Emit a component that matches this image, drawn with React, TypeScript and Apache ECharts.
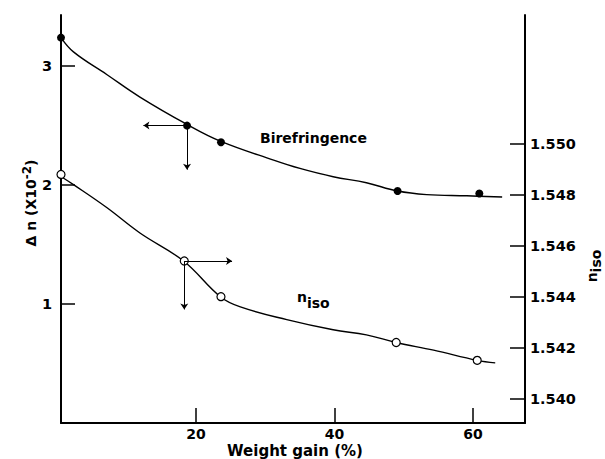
import React, { useEffect, useRef } from "react";
import * as echarts from "echarts";

// Measured points (weight gain %, value)
const weightGainBiref = [0.5, 18.7, 23.6, 49.1, 60.9];
const birefringence = [3.24, 2.5, 2.36, 1.95, 1.93];
const weightGainIso = [0.5, 18.3, 23.6, 48.9, 60.6];
const nIso = [1.5488, 1.5454, 1.544, 1.5422, 1.5415];

// Hand-drawn fitted curves
const birefCurveX = [0.5, 2.3, 7.1, 11.9, 18.7, 23.5, 31.2, 35.0, 39.8, 44.6, 49.1, 53.3, 59.1, 64.2];
const birefCurveY = [3.24, 3.12, 2.93, 2.74, 2.51, 2.37, 2.21, 2.14, 2.07, 2.02, 1.95, 1.92, 1.91, 1.9];
const isoCurveX = [0.6, 2.3, 7.1, 11.9, 18.2, 23.5, 26.4, 33.1, 39.8, 44.6, 48.9, 54.3, 60.6, 63.2];
const isoCurveY = [1.5487, 1.5484, 1.5475, 1.5465, 1.5454, 1.5440, 1.5436, 1.5431, 1.5427, 1.5425, 1.5422, 1.5419, 1.5415, 1.5414];

// Arrow end points (pointing to the relevant axis)
const birefArrowLeftX = 12.4;
const birefArrowDownY = 2.13;
const isoArrowRightX = 25.2;
const isoArrowDownY = 1.5435;

// Tick values
const xTicks = [20, 40, 60];
const leftTicks = [1, 2, 3];
const rightTicks = [1.54, 1.542, 1.544, 1.546, 1.548, 1.55];

const FONT = '"DejaVu Sans", "Liberation Sans", sans-serif';
const INK = "#000";

export default function App() {
  const ref = useRef<HTMLDivElement>(null);

  useEffect(() => {
    if (!ref.current) return;
    const chart = echarts.init(ref.current, null, { renderer: "svg" });

    const zip = (xs: number[], ys: number[]) => xs.map((x, i) => [x, ys[i]]);
    const labelStyle = {
      color: INK,
      fontFamily: FONT,
      fontWeight: "bold" as const,
      fontSize: 14.5,
    };

    const option: any = {
      animation: false,
      backgroundColor: "#fff",
      grid: {
        left: 61,
        right: 80,
        top: 15,
        bottom: 36,
        containLabel: false,
        outerBoundsMode: "none",
      },
      xAxis: {
        type: "value",
        min: 0.5,
        max: 67.5,
        axisLine: { show: true, onZero: false, lineStyle: { color: INK, width: 2 } },
        axisTick: {
          show: true,
          inside: true,
          length: 15,
          customValues: xTicks,
          lineStyle: { color: INK, width: 1.5 },
        },
        axisLabel: { ...labelStyle, fontSize: 14, lineHeight: 13, margin: 4, customValues: xTicks },
        splitLine: { show: false },
      },
      yAxis: [
        {
          type: "value",
          position: "left",
          min: 0,
          max: 3.43,
          axisLine: { show: true, onZero: false, lineStyle: { color: INK, width: 2 } },
          axisTick: {
            show: true,
            inside: true,
            length: 14,
            customValues: leftTicks,
            lineStyle: { color: INK, width: 1.5 },
          },
          axisLabel: { ...labelStyle, margin: 9, customValues: leftTicks },
          splitLine: { show: false },
        },
        {
          type: "value",
          position: "right",
          min: 1.53904,
          max: 1.55506,
          axisLine: { show: true, onZero: false, lineStyle: { color: INK, width: 2 } },
          axisTick: {
            show: true,
            inside: true,
            length: 15,
            customValues: rightTicks,
            lineStyle: { color: INK, width: 1.5 },
          },
          axisLabel: {
            ...labelStyle,
            margin: 5,
            customValues: rightTicks,
            formatter: (v: number) => v.toFixed(3),
          },
          splitLine: { show: false },
        },
      ],
      series: [
        {
          type: "line",
          yAxisIndex: 0,
          data: zip(birefCurveX, birefCurveY),
          smooth: 0.4,
          showSymbol: false,
          silent: true,
          lineStyle: { color: INK, width: 1.4 },
          z: 2,
        },
        {
          type: "line",
          yAxisIndex: 1,
          data: zip(isoCurveX, isoCurveY),
          smooth: 0.4,
          showSymbol: false,
          silent: true,
          lineStyle: { color: INK, width: 1.4 },
          z: 2,
        },
        {
          type: "scatter",
          yAxisIndex: 0,
          data: zip(weightGainBiref, birefringence),
          symbol: "circle",
          symbolSize: 8,
          clip: false,
          itemStyle: { color: INK, opacity: 1 },
          silent: true,
          z: 4,
          markLine: {
            silent: true,
            symbol: ["none", "arrow"],
            symbolSize: 6,
            label: { show: false },
            lineStyle: { color: INK, width: 1, type: "solid", opacity: 1 },
            data: [
              [
                { coord: [weightGainBiref[1], birefringence[1]] },
                { coord: [birefArrowLeftX, birefringence[1]] },
              ],
              [
                { coord: [weightGainBiref[1], birefringence[1]] },
                { coord: [weightGainBiref[1], birefArrowDownY] },
              ],
            ],
          },
        },
        {
          type: "scatter",
          yAxisIndex: 1,
          data: zip(weightGainIso, nIso),
          symbol: "circle",
          symbolSize: 8,
          clip: false,
          itemStyle: { color: "#fff", borderColor: INK, borderWidth: 1.2, opacity: 1 },
          silent: true,
          z: 4,
          markLine: {
            silent: true,
            symbol: ["none", "arrow"],
            symbolSize: 6,
            label: { show: false },
            lineStyle: { color: INK, width: 1, type: "solid", opacity: 1 },
            data: [
              [
                { coord: [weightGainIso[1], nIso[1]] },
                { coord: [isoArrowRightX, nIso[1]] },
              ],
              [
                { coord: [weightGainIso[1], nIso[1]] },
                { coord: [weightGainIso[1], isoArrowDownY] },
              ],
            ],
          },
        },
      ],
      graphic: [
        {
          type: "text",
          x: 260,
          y: 137.5,
          style: {
            text: "Birefringence",
            font: `bold 14px ${FONT}`,
            fill: INK,
            align: "left",
            verticalAlign: "middle",
            textAlign: "left",
            textVerticalAlign: "middle",
          },
        },
        {
          type: "text",
          x: 297,
          y: 290,
          style: {
            text: "{n|n}{i|iso}",
            fill: INK,
            align: "left",
            verticalAlign: "top",
            textAlign: "left",
            textVerticalAlign: "top",
            rich: {
              n: { font: `bold 14px ${FONT}`, fill: INK, lineHeight: 14, verticalAlign: "top" },
              i: { font: `bold 14px ${FONT}`, fill: INK, lineHeight: 14, padding: [11, 0, 0, 0] },
            },
          },
        },
        {
          type: "text",
          x: 28,
          y: 203,
          rotation: Math.PI / 2,
          style: {
            text: "{a|Δ n (X10}{s|-2}{a|)}",
            fill: INK,
            align: "center",
            verticalAlign: "middle",
            textAlign: "center",
            textVerticalAlign: "middle",
            rich: {
              a: { font: `bold 14px ${FONT}`, fill: INK, lineHeight: 14, padding: [5, 0, 0, 0] },
              s: { font: `bold 12px ${FONT}`, fill: INK, lineHeight: 12, verticalAlign: "top" },
            },
          },
        },
        {
          type: "text",
          x: 592,
          y: 266,
          rotation: Math.PI / 2,
          style: {
            text: "{n|n}{i|iso}",
            fill: INK,
            align: "center",
            verticalAlign: "middle",
            textAlign: "center",
            textVerticalAlign: "middle",
            rich: {
              n: { font: `bold 14px ${FONT}`, fill: INK, lineHeight: 14, verticalAlign: "top" },
              i: { font: `bold 14px ${FONT}`, fill: INK, lineHeight: 14, padding: [8, 0, 0, 0] },
            },
          },
        },
        {
          type: "text",
          x: 295,
          y: 451,
          style: {
            text: "Weight gain (%)",
            font: `bold 15px ${FONT}`,
            fill: INK,
            align: "center",
            verticalAlign: "middle",
            textAlign: "center",
            textVerticalAlign: "middle",
          },
        },
      ],
    };

    chart.setOption(option);
    return () => chart.dispose();
  }, []);

  return (
    <div
      ref={ref}
      style={{ position: "absolute", left: 0, top: 0, width: 605, height: 459, background: "#fff" }}
    />
  );
}
